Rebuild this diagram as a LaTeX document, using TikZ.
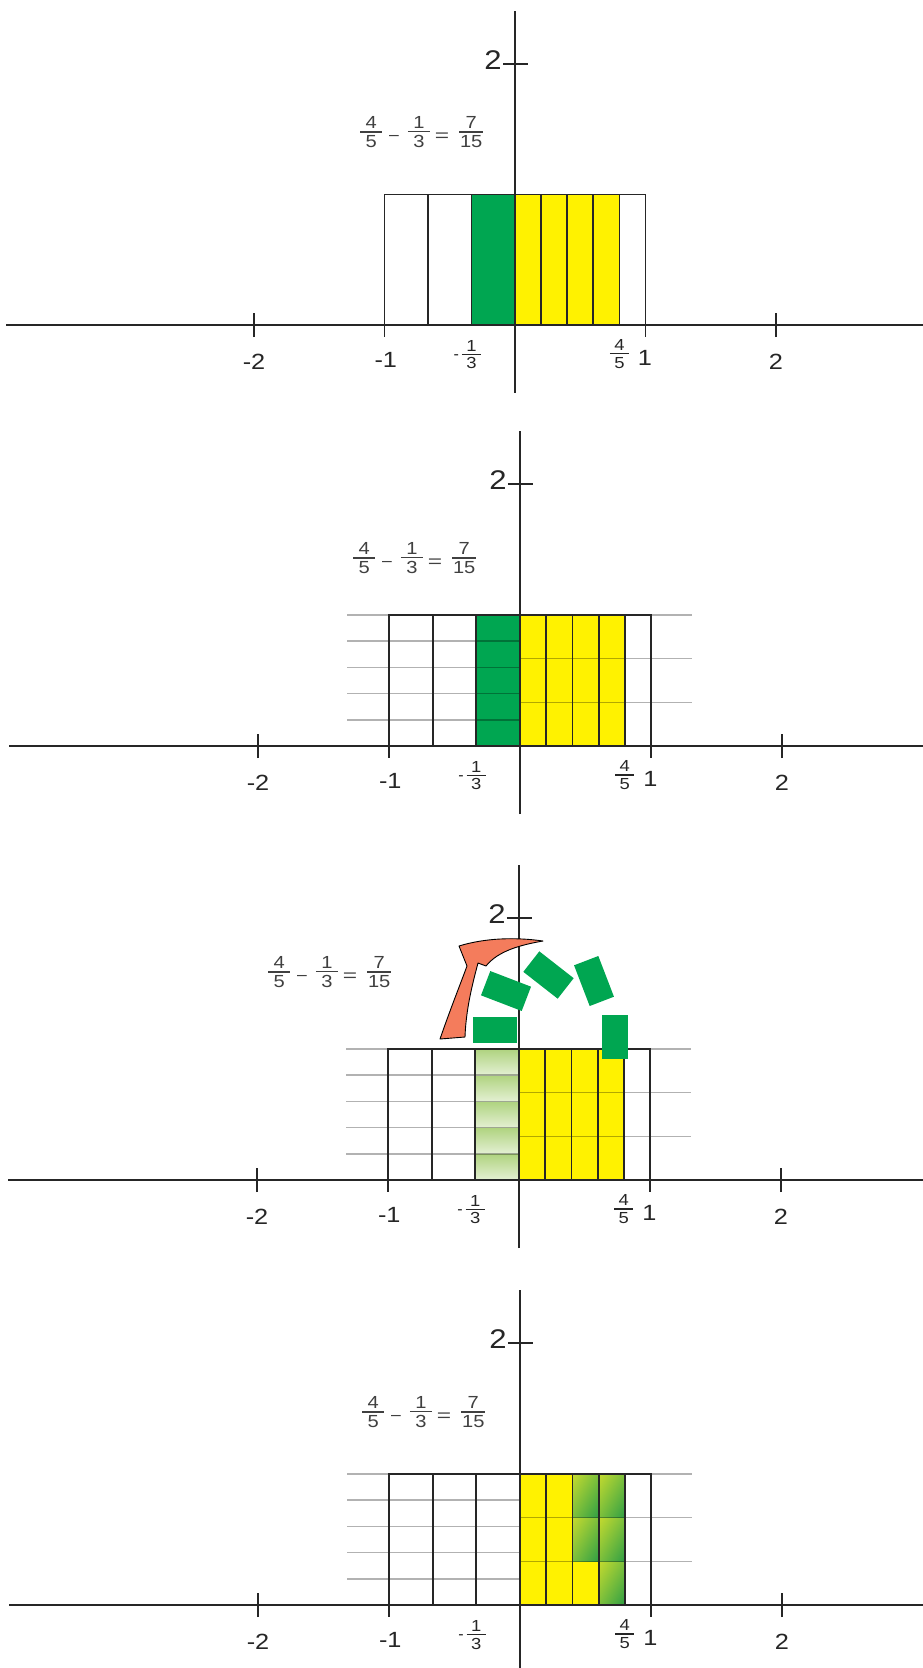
\documentclass[tikz,border=0pt]{standalone}
\usepackage{amsmath}
\usepackage{graphicx}
\usepackage{fontspec}
\usetikzlibrary{shadings}
\setmainfont{Liberation Sans}
\definecolor{gr}{HTML}{00A651}
\definecolor{ye}{HTML}{FFF200}
\definecolor{axc}{HTML}{262626}
\definecolor{eqc}{HTML}{404040}
\definecolor{arr}{HTML}{F47C5C}
\definecolor{fadeT}{HTML}{AFD37F}
\definecolor{fadeB}{HTML}{E4F0D3}
\definecolor{gUL}{HTML}{C5DA2E}
\definecolor{gM}{HTML}{7CC03C}
\definecolor{gLR}{HTML}{2F9E44}
\newcommand{\wide}[1]{\scalebox{1.15}[1]{#1}}
% stacked fraction centred on the math axis, #3 = bar width
\newcommand{\efr}[3]{\ensuremath{\vcenter{\hbox to #3{\hss\wide{#1}\hss}\kern2.5pt\hrule height 1.2pt\kern2.5pt\hbox to #3{\hss\wide{#2}\hss}}}}
\tikzset{
  axisline/.style={draw=axc, line width=2.2pt},
  cellline/.style={draw=axc, line width=1.8pt},
  gridline/.style={draw=black, draw opacity=0.3, line width=1.5pt},
  xlab/.style={font=\fontsize{22}{26}\selectfont, text=axc, inner sep=0pt},
  flab/.style={font=\fontsize{16}{19}\selectfont, text=axc, inner sep=0pt},
  ylab/.style={font=\fontsize{27}{30}\selectfont, text=axc, inner sep=0pt, anchor=east},
  eqlab/.style={font=\fontsize{17.5}{21}\selectfont, text=eqc, inner sep=0pt, anchor=west},
  greencell/.style={upper left=gUL, upper right=gM, lower left=gM, lower right=gLR},
  fadecell/.style={top color=fadeT, bottom color=fadeB},
  block/.style={fill=gr},
  bentarrow/.style={fill=arr, draw=black, line width=0.9pt, line join=round},
}
% #1 prefix, #2,#3 equation position (west end, bar height)
\newcommand{\panelframe}[3]{%
  \draw[cellline] (-1,0) rectangle (1,1);
  \foreach \xx in {-0.6667,-0.3333,0.2,0.4,0.6,0.8} \draw[cellline] (\xx,0) -- (\xx,1);
  \draw[cellline] (-1,0) -- (-1,-0.09) (1,0) -- (1,-0.09);
  \draw[axisline] (-3.9,0) -- (3.3,0);
  \draw[axisline] (0,-0.52) -- (0,2.405);
  \draw[axisline] (-2,-0.092) -- (-2,0.092) (2,-0.092) -- (2,0.092) (-0.092,2) -- (0.1,2);
  \node[xlab] (#1xm2) at (-2,-0.283) {\wide{-2}};
  \node[xlab] (#1xp2) at (2,-0.283) {\wide{2}};
  \node[xlab] (#1xm1) at (-0.99,-0.268) {\wide{-1}};
  \node[xlab] (#1xp1) at (0.995,-0.249) {\wide{1}};
  \node[flab] (#1xf45) at (0.8,-0.222) {\efr{4}{5}{19pt}};
  \node[flab, anchor=east] (#1xf13) at (-0.26,-0.228) {-\hspace{3pt}\efr{1}{3}{19pt}};
  \node[ylab] (#1y2) at (-0.1,2.03) {\wide{2}};
  \node[eqlab] (#1eq) at (#2,#3) {\efr{4}{5}{22pt}\hspace{7pt}\raisebox{-4pt}{–}\hspace{9pt}\efr{1}{3}{22pt}\hspace{5pt}\raisebox{-5.5pt}{\scalebox{1.4}[1]{=}}\hspace{10pt}\efr{7}{15}{24pt}};
}
\newcommand{\gridl}{%
  \draw[gridline] (-1.32,1) -- (1.31,1);
  \foreach \yy in {0.2,0.4,0.6,0.8} \draw[gridline] (-1.32,\yy) -- (0,\yy);
  \draw[gridline] (0,0.3333) -- (1.31,0.3333) (0,0.6667) -- (1.31,0.6667);
}
\begin{document}
\begin{tikzpicture}[x=1pt,y=-1pt]
\useasboundingbox (0,0) rectangle (922,1668);
\fill[white] (0,0) rectangle (922,1668);

% Panel 1
\begin{scope}[shift={(515pt,-325pt)},x=130.5pt,y=130.5pt]
  \fill[gr] (-0.3333,0) rectangle (0,1);
  \fill[ye] (0,0) rectangle (0.8,1);
  \panelframe{a}{-1.188}{1.479}
\end{scope}

% Panel 2
\begin{scope}[shift={(520pt,-746pt)},x=131pt,y=131pt]
  \fill[gr] (-0.3333,0) rectangle (0,1);
  \fill[ye] (0,0) rectangle (0.8,1);
  \gridl
  \panelframe{b}{-1.275}{1.435}
\end{scope}

% Panel 3
\begin{scope}[shift={(519pt,-1180pt)},x=131pt,y=131pt]
  \foreach \yy in {0,0.2,0.4,0.6,0.8} \shade[fadecell] (-0.3333,\yy) rectangle (0,\yy+0.2);
  \fill[ye] (0,0) rectangle (0.8,1);
  \gridl
  \panelframe{c}{-1.916}{1.588}
\end{scope}
\foreach \cx/\cy/\ang in {495/1029.5/0, 506/991/-21, 548.5/975/-38, 594/981/-69, 614.5/1037/-90}
  \fill[block, shift={(\cx,\cy)}, rotate=\ang] (-21.8,-13) rectangle (21.8,13);
\draw[bentarrow] (440,1039) .. controls (450,1010) and (460,985) .. (467,966) -- (459,946)
  .. controls (485,938) and (515,937) .. (543,941)
  .. controls (520,945) and (498,951) .. (486,966) -- (478,963)
  .. controls (473,982) and (466,1008) .. (465,1037) -- cycle;

% Panel 4
\begin{scope}[shift={(520pt,-1605pt)},x=131pt,y=131pt]
  \fill[ye] (0,0) rectangle (0.4,1);
  \fill[ye] (0.4,0) rectangle (0.6,0.3333);
  \shade[greencell] (0.4,0.3333) rectangle (0.6,0.6667);
  \shade[greencell] (0.4,0.6667) rectangle (0.6,1);
  \shade[greencell] (0.6,0) rectangle (0.8,0.3333);
  \shade[greencell] (0.6,0.3333) rectangle (0.8,0.6667);
  \shade[greencell] (0.6,0.6667) rectangle (0.8,1);
  \gridl
  \panelframe{d}{-1.206}{1.473}
\end{scope}
\end{tikzpicture}
\end{document}
